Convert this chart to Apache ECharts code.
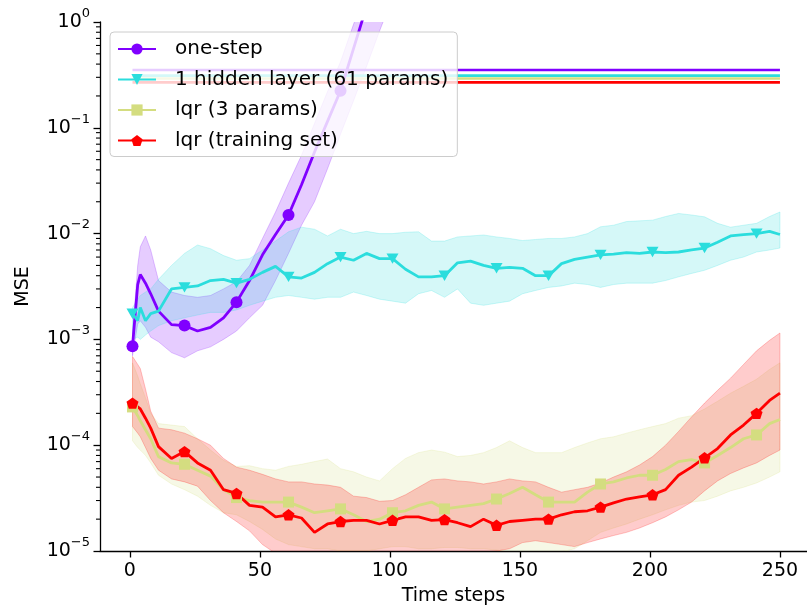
<!DOCTYPE html>
<html>
<head>
<meta charset="utf-8">
<script src="https://cdn.jsdelivr.net/npm/echarts@6/dist/echarts.min.js"></script>
<style>
  html, body { margin: 0; padding: 0; background: #fff; }
  #chart { width: 807px; height: 614px; }
</style>
</head>
<body>
<div id="chart"></div>
<script>
// Time steps at which every curve is sampled
const steps = [1, 3, 4, 6, 8, 11, 16, 21, 26, 31, 36, 41, 46, 51, 56, 61, 66, 71, 76, 81, 86, 91, 96, 101,
  106, 111, 116, 121, 126, 131, 136, 141, 146, 151, 156, 161, 166, 171, 176, 181, 186, 191, 196, 201,
  206, 211, 216, 221, 226, 231, 236, 241, 246, 250];

// one-step model (leaves the plotted range after ~90 steps)
const oneStepMean = [8.6e-4, 3.3e-3, 4.1e-3, 3.4e-3, 2.7e-3, 1.85e-3, 1.38e-3, 1.35e-3, 1.2e-3, 1.3e-3, 1.6e-3, 2.25e-3,
  3.6e-3, 6.3e-3, 9.8e-3, 1.5e-2, 2.9e-2, 5.9e-2, 0.115, 0.224, 0.56, 1.4, 2.8, 6.3];
const oneStepUpper = [1.1e-3, 5.0e-3, 7.5e-3, 9.5e-3, 7.0e-3, 3.6e-3, 2.8e-3, 2.6e-3, 2.5e-3, 2.6e-3, 3.0e-3, 3.5e-3,
  5.0e-3, 9.0e-3, 1.6e-2, 3.0e-2, 5.5e-2, 0.11, 0.22, 0.42, 0.95, 2.0, 4.5, 10];
const oneStepLower = [7.0e-4, 1.4e-3, 1.5e-3, 1.3e-3, 1.05e-3, 9.5e-4, 7.5e-4, 6.7e-4, 7.8e-4, 8.5e-4, 1.0e-3, 1.2e-3,
  1.6e-3, 2.1e-3, 3.6e-3, 6.5e-3, 1.2e-2, 2.0e-2, 4.1e-2, 8.7e-2, 0.18, 0.38, 0.82, 1.7];

// 1 hidden layer (61 params)
const hiddenMean = [1.75e-3, 1.5e-3, 2.0e-3, 1.5e-3, 1.75e-3, 1.85e-3, 3.0e-3, 3.1e-3, 3.2e-3, 3.6e-3, 3.7e-3, 3.4e-3,
  3.7e-3, 4.3e-3, 4.9e-3, 3.9e-3, 3.8e-3, 4.3e-3, 5.2e-3, 6.0e-3, 5.6e-3, 6.5e-3, 5.8e-3, 5.8e-3,
  4.6e-3, 3.9e-3, 3.9e-3, 4.0e-3, 5.3e-3, 5.5e-3, 5.0e-3, 4.7e-3, 4.8e-3, 4.7e-3, 4.0e-3, 4.0e-3,
  5.2e-3, 5.7e-3, 6.0e-3, 6.3e-3, 6.4e-3, 6.6e-3, 6.5e-3, 6.7e-3, 6.6e-3, 6.7e-3, 7.0e-3, 7.3e-3,
  8.3e-3, 9.5e-3, 9.8e-3, 1.0e-2, 1.05e-2, 9.8e-3];
const hiddenUpper = [2.0e-3, 2.4e-3, 2.6e-3, 2.8e-3, 3.0e-3, 3.7e-3, 5.0e-3, 6.5e-3, 7.8e-3, 7.2e-3, 6.2e-3, 5.6e-3,
  5.8e-3, 7.0e-3, 8.5e-3, 1.04e-2, 1.15e-2, 1.1e-2, 9.5e-3, 1.1e-2, 1.0e-2, 1.05e-2, 1.0e-2, 1.0e-2,
  1.03e-2, 1.04e-2, 8.5e-3, 8.5e-3, 9.3e-3, 9.5e-3, 9.7e-3, 9.3e-3, 9.0e-3, 8.6e-3, 8.8e-3, 9.0e-3,
  9.0e-3, 9.3e-3, 1.0e-2, 1.16e-2, 1.2e-2, 1.3e-2, 1.32e-2, 1.34e-2, 1.45e-2, 1.55e-2, 1.5e-2, 1.44e-2,
  1.25e-2, 1.15e-2, 1.2e-2, 1.25e-2, 1.45e-2, 1.6e-2];
const hiddenLower = [1.0e-3, 1.05e-3, 1.0e-3, 1.1e-3, 1.2e-3, 1.35e-3, 1.5e-3, 1.6e-3, 1.7e-3, 1.8e-3, 1.8e-3, 1.9e-3,
  2.1e-3, 2.3e-3, 2.5e-3, 2.6e-3, 2.5e-3, 2.4e-3, 2.5e-3, 2.5e-3, 2.8e-3, 2.6e-3, 2.4e-3, 2.3e-3,
  2.2e-3, 2.7e-3, 2.9e-3, 2.5e-3, 3.0e-3, 2.2e-3, 2.1e-3, 2.2e-3, 2.3e-3, 2.7e-3, 2.9e-3, 3.1e-3,
  3.2e-3, 3.4e-3, 3.3e-3, 3.1e-3, 3.3e-3, 3.4e-3, 3.4e-3, 3.4e-3, 3.6e-3, 3.9e-3, 4.2e-3, 4.5e-3,
  5.0e-3, 5.6e-3, 6.0e-3, 6.7e-3, 7.0e-3, 7.3e-3];

// lqr (3 params)
const lqrMean = [2.3e-4, 1.9e-4, 1.7e-4, 1.4e-4, 1.15e-4, 7.8e-5, 6.8e-5, 6.6e-5, 5.8e-5, 5.1e-5, 3.8e-5, 3.2e-5,
  3.0e-5, 2.9e-5, 2.9e-5, 2.9e-5, 2.6e-5, 2.3e-5, 2.4e-5, 2.5e-5, 2.2e-5, 1.9e-5, 2.0e-5, 2.3e-5,
  2.4e-5, 2.7e-5, 2.9e-5, 2.5e-5, 2.6e-5, 2.7e-5, 2.8e-5, 3.1e-5, 3.5e-5, 4.0e-5, 3.4e-5, 2.9e-5,
  2.9e-5, 2.9e-5, 3.6e-5, 4.3e-5, 4.5e-5, 4.9e-5, 5.2e-5, 5.2e-5, 5.9e-5, 7.0e-5, 7.3e-5, 6.8e-5,
  8.0e-5, 9.5e-5, 1.15e-4, 1.25e-4, 1.6e-4, 1.75e-4];
const lqrUpper = [6.0e-4, 4.5e-4, 3.8e-4, 2.8e-4, 2.0e-4, 1.6e-4, 1.55e-4, 1.5e-4, 1.15e-4, 9.0e-5, 7.2e-5, 6.3e-5,
  6.4e-5, 6.0e-5, 5.8e-5, 6.3e-5, 6.6e-5, 7.0e-5, 7.4e-5, 6.0e-5, 5.6e-5, 5.0e-5, 4.6e-5, 6.0e-5,
  7.5e-5, 8.5e-5, 9.0e-5, 8.6e-5, 7.8e-5, 8.0e-5, 8.5e-5, 9.5e-5, 1.1e-4, 9.5e-5, 8.5e-5, 8.5e-5,
  8.5e-5, 9.5e-5, 1.05e-4, 1.15e-4, 1.2e-4, 1.3e-4, 1.4e-4, 1.5e-4, 1.6e-4, 1.8e-4, 1.9e-4, 2.2e-4,
  2.6e-4, 3.1e-4, 3.6e-4, 4.2e-4, 5.2e-4, 6.0e-4];
const lqrLower = [1.1e-4, 9.5e-5, 9.0e-5, 8.0e-5, 6.8e-5, 5.2e-5, 4.3e-5, 3.8e-5, 3.3e-5, 2.7e-5, 2.3e-5, 2.2e-5,
  1.9e-5, 1.6e-5, 1.3e-5, 1.15e-5, 1.1e-5, 1.05e-5, 1.05e-5, 1.0e-5, 1.0e-5, 1.0e-5, 1.05e-5, 1.1e-5,
  1.1e-5, 1.05e-5, 1.05e-5, 1.08e-5, 1.08e-5, 1.05e-5, 1.05e-5, 1.02e-5, 9.8e-6, 9.5e-6, 9.5e-6, 9.5e-6,
  9.8e-6, 1.05e-5, 1.25e-5, 1.5e-5, 1.65e-5, 1.8e-5, 2.0e-5, 2.2e-5, 2.45e-5, 2.7e-5, 2.9e-5, 3.0e-5,
  3.3e-5, 3.7e-5, 4.0e-5, 4.4e-5, 5.0e-5, 5.6e-5];

// lqr (training set)
const trainMean = [2.5e-4, 2.3e-4, 2.2e-4, 1.8e-4, 1.45e-4, 9.7e-5, 7.5e-5, 8.7e-5, 6.8e-5, 5.8e-5, 3.8e-5, 3.5e-5,
  2.7e-5, 2.6e-5, 2.1e-5, 2.2e-5, 2.05e-5, 1.5e-5, 1.8e-5, 1.9e-5, 1.95e-5, 1.95e-5, 1.8e-5, 1.95e-5,
  2.1e-5, 2.1e-5, 1.95e-5, 1.98e-5, 1.85e-5, 1.7e-5, 2.0e-5, 1.75e-5, 1.9e-5, 1.95e-5, 2.0e-5, 2.0e-5,
  2.2e-5, 2.35e-5, 2.4e-5, 2.6e-5, 2.85e-5, 3.1e-5, 3.25e-5, 3.4e-5, 3.8e-5, 5.2e-5, 6.2e-5, 7.6e-5,
  9.3e-5, 1.25e-4, 1.55e-4, 2.0e-4, 2.65e-4, 3.1e-4];
const trainUpper = [6.9e-4, 5.8e-4, 5.3e-4, 3.4e-4, 2.1e-4, 1.45e-4, 1.4e-4, 1.3e-4, 1.15e-4, 1.0e-4, 7.5e-5, 6.2e-5,
  5.8e-5, 5.3e-5, 4.8e-5, 4.5e-5, 4.5e-5, 4.3e-5, 4.2e-5, 4.0e-5, 3.3e-5, 3.2e-5, 2.95e-5, 3.0e-5,
  3.4e-5, 4.0e-5, 4.7e-5, 4.8e-5, 4.6e-5, 4.5e-5, 4.3e-5, 4.5e-5, 4.8e-5, 4.6e-5, 4.5e-5, 4.0e-5,
  3.6e-5, 3.8e-5, 4.0e-5, 4.4e-5, 5.0e-5, 5.6e-5, 6.5e-5, 7.8e-5, 1.0e-4, 1.35e-4, 1.85e-4, 2.5e-4,
  3.3e-4, 4.3e-4, 5.8e-4, 7.8e-4, 9.8e-4, 1.15e-3];
const trainLower = [1.5e-4, 1.3e-4, 1.2e-4, 9.5e-5, 7.5e-5, 5.8e-5, 4.8e-5, 4.5e-5, 4.1e-5, 3.0e-5, 2.3e-5, 1.9e-5,
  1.55e-5, 1.15e-5, 9.5e-6, 9.0e-6, 8.8e-6, 8.5e-6, 8.5e-6, 8.5e-6, 8.5e-6, 8.5e-6, 8.5e-6, 8.5e-6,
  8.5e-6, 8.8e-6, 9.0e-6, 9.0e-6, 9.2e-6, 9.5e-6, 9.8e-6, 1.0e-5, 1.05e-5, 1.2e-5, 1.25e-5, 1.2e-5,
  1.15e-5, 1.1e-5, 1.2e-5, 1.3e-5, 1.4e-5, 1.5e-5, 1.65e-5, 1.85e-5, 2.1e-5, 2.45e-5, 2.9e-5, 3.7e-5,
  4.6e-5, 5.4e-5, 6.1e-5, 6.8e-5, 8.0e-5, 9.0e-5];

// Flat reference levels, one per model, spanning the whole horizon
const levelSpan = [1, 250];
const levelValues = [0.352, 0.311, 0.292, 0.269];

// Axis ticks
const xTicks = [0, 50, 100, 150, 200, 250];
const yDecades = [1e-5, 1e-4, 1e-3, 1e-2, 1e-1, 1];

const FONT = 'DejaVu Sans';
const X_MIN = -11.5, X_MAX = 260.4, Y_MIN = 1e-5, Y_MAX = 1;

const models = [
  { name: 'one-step', color: '#8000ff', rgb: '128,0,255', mean: oneStepMean, upper: oneStepUpper, lower: oneStepLower,
    symbol: 'circle', size: 12 },
  { name: '1 hidden layer (61 params)', color: '#2bdddd', rgb: '43,221,221', mean: hiddenMean, upper: hiddenUpper, lower: hiddenLower,
    symbol: 'path://M0,0L2,0L1,1.732Z', size: 12 },
  { name: 'lqr (3 params)', color: '#d4dd80', rgb: '212,221,128', mean: lqrMean, upper: lqrUpper, lower: lqrLower,
    symbol: 'rect', size: 11 },
  { name: 'lqr (training set)', color: '#ff0000', rgb: '255,0,0', mean: trainMean, upper: trainUpper, lower: trainLower,
    symbol: 'path://M1,0L1.951,0.691L1.588,1.809L0.412,1.809L0.049,0.691Z', size: 12 }
];

// shaded spread between lower and upper curves
function bandSeries(m) {
  return {
    type: 'custom',
    name: m.name + ' spread',
    coordinateSystem: 'cartesian2d',
    clip: true,
    silent: true,
    z: 1,
    data: [[steps[0], m.mean[0]]],
    renderItem: function (params, api) {
      const pts = [];
      for (let i = 0; i < m.upper.length; i++) pts.push(api.coord([steps[i], m.upper[i]]));
      for (let i = m.lower.length - 1; i >= 0; i--) pts.push(api.coord([steps[i], m.lower[i]]));
      return {
        type: 'polygon',
        shape: { points: pts },
        style: { fill: 'rgba(' + m.rgb + ',0.2)', stroke: 'rgba(' + m.rgb + ',0.22)', lineWidth: 1 }
      };
    }
  };
}

// mean curve with a marker every 20 steps
function meanSeries(m) {
  return {
    type: 'line',
    name: m.name,
    z: 3,
    symbol: m.symbol,
    symbolSize: m.size,
    symbolKeepAspect: true,
    showAllSymbol: true,
    clip: true,
    lineStyle: { color: m.color, width: 2.8 },
    itemStyle: { color: m.color },
    data: m.mean.map(function (v, i) {
      return { value: [steps[i], v], symbol: (steps[i] - 1) % 20 === 0 ? m.symbol : 'none' };
    })
  };
}

function levelSeries(m, i) {
  return {
    type: 'line',
    name: m.name + ' level',
    z: 2,
    symbol: 'none',
    lineStyle: { color: m.color, width: 2.6 },
    data: levelSpan.map(function (x) { return [x, levelValues[i]]; })
  };
}

// minor ticks of the log axis (2..9 within each decade)
const minorTickValues = [];
for (let d = 0; d < yDecades.length - 1; d++) {
  for (let k = 2; k <= 9; k++) minorTickValues.push(k * yDecades[d]);
}
const minorTicks = {
  type: 'custom',
  name: 'minor ticks',
  coordinateSystem: 'cartesian2d',
  clip: false,
  silent: true,
  z: 5,
  data: minorTickValues.map(function (v) { return [X_MIN, v]; }),
  renderItem: function (params, api) {
    const p = api.coord([X_MIN, api.value(1)]);
    return {
      type: 'line',
      shape: { x1: p[0] - 4, y1: p[1], x2: p[0], y2: p[1] },
      style: { stroke: '#000', lineWidth: 1.1 }
    };
  }
};

function supLabel(v) {
  const e = Math.round(Math.log10(v));
  return '{b|10}{s|' + (e < 0 ? '\u2212' + (-e) : String(e)) + '}';
}

const series = [];
models.forEach(function (m) { series.push(bandSeries(m)); });
models.forEach(function (m, i) { series.push(levelSeries(m, i)); });
models.forEach(function (m) { series.push(meanSeries(m)); });
series.push(minorTicks);

const chart = echarts.init(document.getElementById('chart'), null, { renderer: 'canvas' });
chart.setOption({
  animation: false,
  backgroundColor: '#ffffff',
  grid: { left: 100, right: 0, top: 22, bottom: 63, containLabel: false },
  legend: {
    data: models.map(function (m) { return m.name; }),
    orient: 'vertical',
    left: 110,
    top: 32,
    itemWidth: 38,
    itemHeight: 14,
    itemGap: 10.5,
    padding: [7, 9, 6, 7],
    backgroundColor: 'rgba(255,255,255,0.8)',
    borderColor: '#cccccc',
    borderWidth: 1,
    borderRadius: 4,
    selectedMode: false,
    textStyle: { fontFamily: FONT, fontSize: 20, color: '#000', lineHeight: 20, padding: [0, 0, 0, 14] }
  },
  xAxis: {
    type: 'value',
    min: X_MIN,
    max: X_MAX,
    name: 'Time steps',
    nameLocation: 'middle',
    nameGap: 36,
    nameTextStyle: { fontFamily: FONT, fontSize: 19, color: '#000' },
    axisLine: { show: true, onZero: false, lineStyle: { color: '#000', width: 1.3 } },
    axisTick: { show: true, length: 6.5, customValues: xTicks, lineStyle: { color: '#000', width: 1.3 } },
    axisLabel: { customValues: xTicks, fontFamily: FONT, fontSize: 19, color: '#000', margin: 11 },
    splitLine: { show: false }
  },
  yAxis: {
    type: 'log',
    logBase: 10,
    min: Y_MIN,
    max: Y_MAX,
    name: 'MSE',
    nameLocation: 'middle',
    nameGap: 67,
    nameTextStyle: { fontFamily: FONT, fontSize: 19, color: '#000' },
    axisLine: { show: true, onZero: false, lineStyle: { color: '#000', width: 1.3 } },
    axisTick: { show: true, length: 6.5, lineStyle: { color: '#000', width: 1.3 } },
    axisLabel: {
      fontFamily: FONT,
      margin: 10,
      formatter: supLabel,
      rich: {
        b: { fontFamily: FONT, fontSize: 19, color: '#000', lineHeight: 30 },
        s: { fontFamily: FONT, fontSize: 13, color: '#000', lineHeight: 16, verticalAlign: 'top' }
      }
    },
    splitLine: { show: false },
    minorTick: { show: false }
  },
  series: series
});
</script>
</body>
</html>
